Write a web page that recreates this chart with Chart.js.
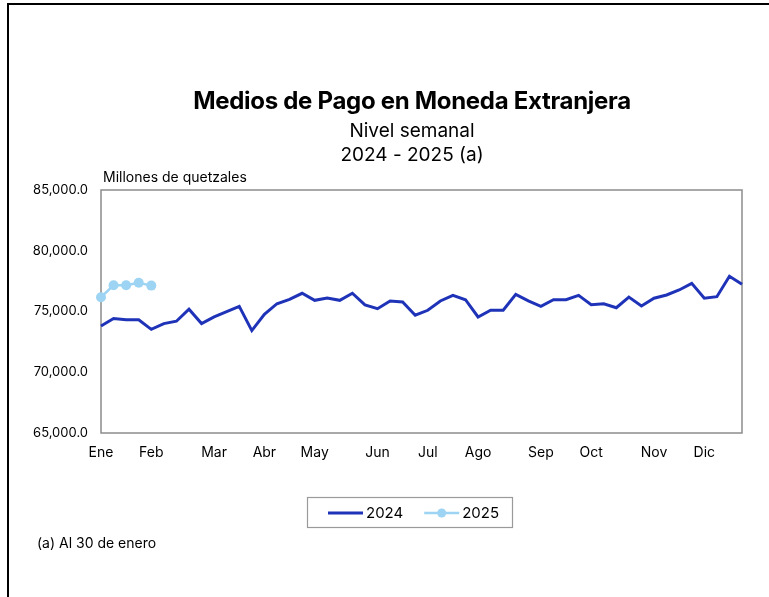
<!DOCTYPE html>
<html>
<head>
<meta charset="utf-8">
<script src="https://cdn.jsdelivr.net/npm/chart.js@4.4.1/dist/chart.umd.min.js"></script>
<style>
  html, body { margin: 0; padding: 0; background: #fff; }
  #wrap { position: relative; width: 769px; height: 597px; }
</style>
</head>
<body>
<div id="wrap"><canvas id="chartMedios" width="769" height="597"></canvas></div>
<script>
var titleText = "Medios de Pago en Moneda Extranjera";
var subtitleLines = ["Nivel semanal", "2024 - 2025 (a)"];
var unitText = "Millones de quetzales";
var noteText = "(a) Al 30 de enero";

var monthNames = ["Ene", "Feb", "Mar", "Abr", "May", "Jun", "Jul", "Ago", "Sep", "Oct", "Nov", "Dic"];
var monthStartWeek = [0, 4, 9, 13, 17, 22, 26, 30, 35, 39, 44, 48];
var weekCount = 52;

var yTicks = [65000, 70000, 75000, 80000, 85000];

var values2024 = [
  73810, 74420, 74320, 74320, 73530, 74000, 74200, 75190, 74010, 74560,
  74990, 75420, 73430, 74770, 75640, 76000, 76500, 75920, 76110, 75920,
  76500, 75540, 75230, 75870, 75780, 74690, 75100, 75870, 76330, 75970,
  74550, 75100, 75100, 76410, 75870, 75430, 75970, 75970, 76330, 75560,
  75640, 75310, 76190, 75450, 76090, 76360, 76770, 77320, 76090, 76220,
  77900, 77240
];
var values2025 = [76180, 77160, 77160, 77360, 77130];

var color2024 = "#1f33b8";
var color2025 = "#9dd3f3";
var fontName = "Inter, 'Noto Sans', sans-serif";

// one label per week, month name on the first week of the month
var weekLabels = [];
for (var i = 0; i < weekCount; i++) {
  var m = monthStartWeek.indexOf(i);
  weekLabels.push(m >= 0 ? monthNames[m] : "");
}

function formatNumber(v) {
  return v.toLocaleString("en-US", { minimumFractionDigits: 1, maximumFractionDigits: 1 });
}

var extrasPlugin = {
  id: "extras",
  beforeDatasetsDraw: function (chart) {
    var ctx = chart.ctx;
    var a = chart.chartArea;
    ctx.save();
    ctx.strokeStyle = "#8c8c8c";
    ctx.lineWidth = 1.5;
    ctx.strokeRect(a.left, a.top, a.right - a.left, a.bottom - a.top);
    ctx.restore();
  },
  afterDraw: function (chart) {
    var ctx = chart.ctx;
    var a = chart.chartArea;
    ctx.save();

    // outer frame
    ctx.strokeStyle = "#000";
    ctx.lineWidth = 2;
    ctx.beginPath();
    ctx.moveTo(8, 597);
    ctx.lineTo(8, 4);
    ctx.lineTo(769, 4);
    ctx.stroke();

    // titles
    var cx = 412;
    ctx.fillStyle = "#000";
    ctx.textAlign = "center";
    ctx.textBaseline = "middle";
    ctx.font = "bold 24px " + fontName;
    ctx.letterSpacing = "-0.3px";
    ctx.fillText(titleText, cx, 102);
    ctx.letterSpacing = "0px";
    ctx.font = "19px " + fontName;
    ctx.fillText(subtitleLines[0], cx, 131);
    ctx.fillText(subtitleLines[1], cx, 155);

    // unit label
    ctx.textAlign = "left";
    ctx.font = "14px " + fontName;
    ctx.fillText(unitText, a.left + 2, 178);

    // footnote
    ctx.fillText(noteText, 37, 544);

    // legend
    var ds = chart.data.datasets;
    var boxX = 307, boxY = 497, boxW = 205, boxH = 30;
    ctx.strokeStyle = "#9a9a9a";
    ctx.lineWidth = 1.2;
    ctx.strokeRect(boxX + 0.5, boxY + 0.5, boxW, boxH);
    ctx.font = "15px " + fontName;
    var ly = boxY + boxH / 2 + 1;
    var x = boxX + 21;
    for (var i = 0; i < ds.length; i++) {
      ctx.strokeStyle = ds[i].borderColor;
      ctx.lineWidth = ds[i].borderWidth;
      ctx.beginPath();
      ctx.moveTo(x, ly);
      ctx.lineTo(x + 35, ly);
      ctx.stroke();
      if (ds[i].pointRadius > 0) {
        ctx.fillStyle = ds[i].pointBackgroundColor;
        ctx.beginPath();
        ctx.arc(x + 17.5, ly, 4.5, 0, Math.PI * 2);
        ctx.fill();
      }
      ctx.fillStyle = "#000";
      ctx.fillText(ds[i].label, x + 38, ly);
      x += 38 + ctx.measureText(ds[i].label).width + 21;
    }
    ctx.restore();
  }
};

var ctx = document.getElementById("chartMedios").getContext("2d");
var chartMedios = new Chart(ctx, {
  type: "line",
  data: {
    labels: weekLabels,
    datasets: [
      {
        label: "2024",
        data: values2024,
        borderColor: color2024,
        backgroundColor: color2024,
        borderWidth: 3,
        pointRadius: 0,
        pointBackgroundColor: color2024,
        tension: 0
      },
      {
        label: "2025",
        data: values2025,
        borderColor: color2025,
        backgroundColor: color2025,
        borderWidth: 2.5,
        pointRadius: 5,
        pointBorderWidth: 0,
        pointBackgroundColor: color2025,
        tension: 0,
        clip: 10
      }
    ]
  },
  options: {
    responsive: false,
    animation: false,
    devicePixelRatio: 1,
    layout: {
      padding: { top: 190, right: 27, bottom: 134, left: 0 }
    },
    plugins: {
      legend: { display: false },
      title: { display: false },
      tooltip: { enabled: false }
    },
    scales: {
      x: {
        type: "category",
        grid: { display: false, drawTicks: false },
        border: { display: false },
        afterFit: function (scale) { scale.height = 30; },
        ticks: {
          autoSkip: false,
          maxRotation: 0,
          minRotation: 0,
          padding: 11,
          color: "#000",
          font: { family: fontName, size: 14 }
        }
      },
      y: {
        min: yTicks[0],
        max: yTicks[yTicks.length - 1],
        grid: { display: false, drawTicks: false },
        border: { display: false },
        afterFit: function (scale) { scale.width = 101; },
        afterBuildTicks: function (scale) {
          scale.ticks = yTicks.map(function (v) { return { value: v }; });
        },
        ticks: {
          padding: 13,
          color: "#000",
          font: { family: fontName, size: 13 },
          callback: function (v) { return formatNumber(v); }
        }
      }
    }
  },
  plugins: [extrasPlugin]
});
</script>
</body>
</html>
